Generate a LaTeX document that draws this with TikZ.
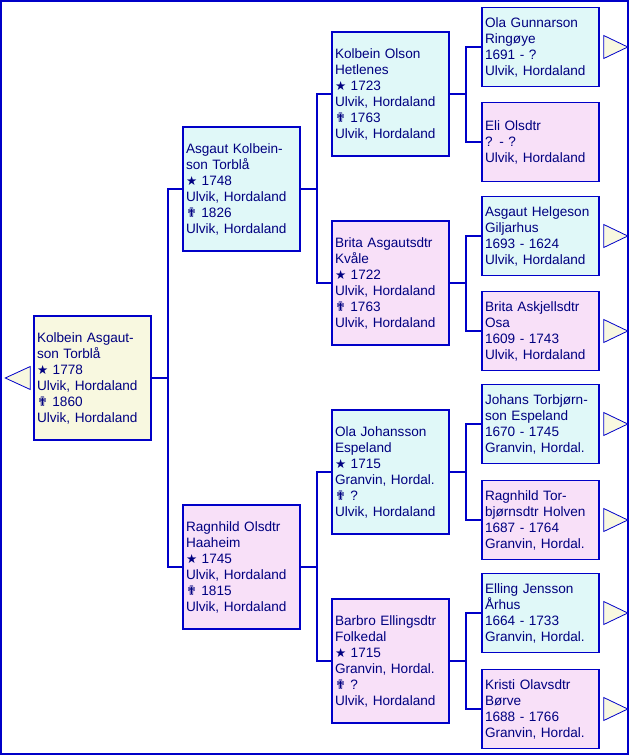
\documentclass[tikz,border=0pt]{standalone}
\usepackage{fontspec}
\setmainfont{Liberation Sans}
\newfontfamily\symbfont{DejaVu Sans}
\definecolor{linie}{RGB}{0,0,200}
\definecolor{tekst}{RGB}{0,0,128}
\definecolor{mann}{RGB}{224,248,248}
\definecolor{kvinne}{RGB}{248,224,248}
\definecolor{gul}{RGB}{248,248,224}
\newcommand{\fodt}{{\symbfont\fontsize{12.5}{16}\selectfont ★}}
\newcommand{\dod}{{\symbfont\fontsize{13}{16}\selectfont ✟}}
\tikzset{person/.style = {draw=linie, line width=1.5, text=tekst, align=left,
                          text width=111, inner xsep=3, inner ysep=0,
                          font=\fontsize{13.6}{16}\selectfont}}
\tikzset{bigbox/.style = {minimum height=124}}
\tikzset{smallbox/.style = {minimum height=79}}
\tikzset{man/.style = {person, fill=mann}}
\tikzset{woman/.style = {person, fill=kvinne}}
\tikzset{self/.style = {person, fill=gul}}
\tikzset{link/.style = {draw=linie, line width=1.5}}
\tikzset{more/.style = {draw=linie, line width=0.8, fill=gul}}

\begin{document}
\begin{tikzpicture}[x=1pt, y=-1pt]
      \useasboundingbox (0, 0) rectangle (632, 756);
      \draw [linie, line width=2] (1, 1) rectangle (628, 754);

      \node [self, bigbox] (p) at (92.5, 378) {Kolbein Asgaut-\\son Torblå\\\fodt\ 1778\\Ulvik, Hordaland\\\dod\ 1860\\Ulvik, Hordaland};

      \node [man, bigbox] (f) at (241.5, 189) {Asgaut Kolbein-\\son Torblå\\\fodt\ 1748\\Ulvik, Hordaland\\\dod\ 1826\\Ulvik, Hordaland};
      \node [woman, bigbox] (m) at (241.5, 567) {Ragnhild Olsdtr\\Haaheim\\\fodt\ 1745\\Ulvik, Hordaland\\\dod\ 1815\\Ulvik, Hordaland};

      \node [man, bigbox] (ff) at (390.5, 94) {Kolbein Olson\\Hetlenes\\\fodt\ 1723\\Ulvik, Hordaland\\\dod\ 1763\\Ulvik, Hordaland};
      \node [woman, bigbox] (fm) at (390.5, 283) {Brita Asgautsdtr\\Kvåle\\\fodt\ 1722\\Ulvik, Hordaland\\\dod\ 1763\\Ulvik, Hordaland};
      \node [man, bigbox] (mf) at (390.5, 472) {Ola Johansson\\Espeland\\\fodt\ 1715\\Granvin, Hordal.\\\dod\ ?\\Ulvik, Hordaland};
      \node [woman, bigbox] (mm) at (390.5, 661) {Barbro Ellingsdtr\\Folkedal\\\fodt\ 1715\\Granvin, Hordal.\\\dod\ ?\\Ulvik, Hordaland};

      \node [man, smallbox] (fff) at (540.5, 47) {Ola Gunnarson\\Ringøye\\1691 - ?\\Ulvik, Hordaland};
      \node [woman, smallbox] (ffm) at (540.5, 142) {Eli Olsdtr\\? - ?\\Ulvik, Hordaland};
      \node [man, smallbox] (fmf) at (540.5, 236) {Asgaut Helgeson\\Giljarhus\\1693 - 1624\\Ulvik, Hordaland};
      \node [woman, smallbox] (fmm) at (540.5, 331) {Brita Askjellsdtr\\Osa\\1609 - 1743\\Ulvik, Hordaland};
      \node [man, smallbox] (mff) at (540.5, 424) {Johans Torbjørn-\\son Espeland\\1670 - 1745\\Granvin, Hordal.};
      \node [woman, smallbox] (mfm) at (540.5, 520) {Ragnhild Tor-\\bjørnsdtr Holven\\1687 - 1764\\Granvin, Hordal.};
      \node [man, smallbox] (mmf) at (540.5, 613) {Elling Jensson\\Århus\\1664 - 1733\\Granvin, Hordal.};
      \node [woman, smallbox] (mmm) at (540.5, 709) {Kristi Olavsdtr\\Børve\\1688 - 1766\\Granvin, Hordal.};

      \foreach \a/\b in {p/f, p/m, f/ff, f/fm, m/mf, m/mm, ff/fff, ff/ffm,
                         fm/fmf, fm/fmm, mf/mff, mf/mfm, mm/mmf, mm/mmm}
        \draw [link] (\a.east) -- ++(16, 0) |- (\b.west);

      \foreach \n in {fff, fmf, fmm, mff, mfm, mmf, mmm}
        \draw [more] ([xshift=4]\n.east) ++(0, -11.5) -- ++(24, 11.5) -- ++(-24, 11.5) -- cycle;
      \draw [more] ([xshift=-3]p.west) ++(0, -11.5) -- ++(-25, 11.5) -- ++(25, 11.5) -- cycle;
    \end{tikzpicture}
\end{document}
